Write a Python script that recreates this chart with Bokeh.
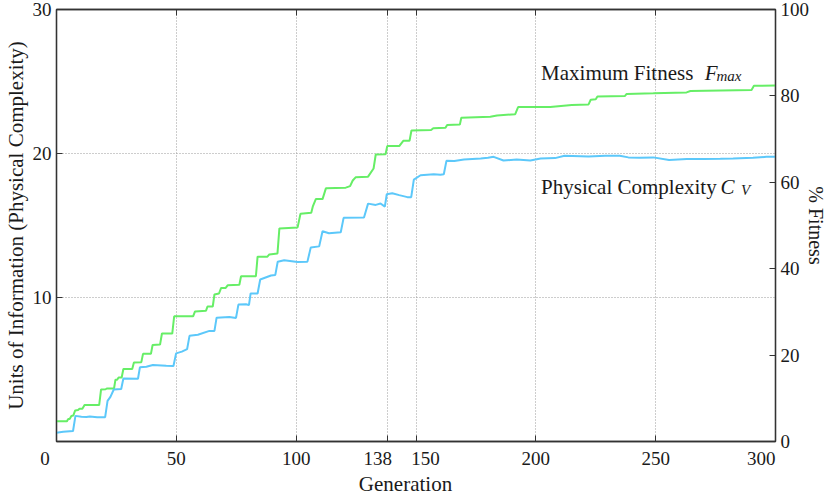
import math
from bokeh.plotting import figure
from bokeh.models import Range1d, LinearAxis, FixedTicker, Label
from bokeh.embed import file_html
from bokeh.resources import INLINE

# ---------------- data ----------------
fit_gen = [0, 4.3, 4.9, 5.5, 6.2, 7.0, 7.8, 9.0, 9.6, 10.8, 11.7, 17.8, 18.6, 20.5, 21.0,
           24.0, 24.6, 25.3, 25.9, 27.2, 27.9, 31.6, 32.3, 35.4, 36.1, 39.4, 40.1, 43.2,
           44.0, 48.3, 49.1, 57.0, 57.8, 62.4, 63.0, 65.2, 65.9, 67.8, 68.7, 70.6, 71.4,
           76.3, 77.0, 83.2, 83.9, 88.0, 88.8, 92.2, 93.0, 100.6, 101.8, 106.3, 107.0,
           108.2, 111.0, 112.4, 120.7, 122.5, 123.6, 124.8, 130.0, 132.3, 133.2, 137.3,
           138.0, 143.0, 144.7, 147.3, 148.1, 156.3, 157.2, 162.3, 163.0, 168.3, 168.9,
           181.0, 183.8, 191.4, 192.6, 206.0, 215.0, 222.0, 222.9, 225.0, 225.7, 237.2,
           237.9, 249.0, 262.9, 264.5, 290.0, 291.0, 300.0]
fit_pct = [4.66, 4.66, 5.20, 5.20, 5.90, 6.00, 7.20, 7.30, 7.60, 7.60, 8.43, 8.43, 12.05,
           12.10, 12.27, 12.27, 14.31, 14.31, 14.82, 14.82, 16.79, 16.79, 18.26, 18.37,
           20.29, 20.29, 22.33, 22.44, 24.99, 24.99, 28.99, 28.99, 30.12, 30.28, 31.25,
           31.25, 34.03, 34.26, 35.55, 35.55, 36.16, 36.29, 38.26, 38.26, 42.78, 42.78,
           43.30, 43.53, 49.33, 49.56, 52.72, 52.95, 54.50, 56.11, 56.11, 58.60, 58.76,
           59.12, 60.41, 61.15, 61.31, 63.20, 66.44, 66.51, 68.38, 68.38, 69.60, 69.60,
           72.00, 72.09, 72.50, 72.61, 73.29, 73.36, 74.94, 75.16, 75.48, 75.77, 77.42,
           77.42, 77.88, 78.03, 79.10, 79.20, 79.84, 80.00, 80.45, 80.59, 80.81, 81.13,
           81.36, 82.33, 82.40]

cv_gen = [0, 2.8, 6.9, 7.9, 10.4, 12.5, 13.9, 17.0, 20.3, 21.3, 22.5, 23.9, 27.0, 27.9,
          34.0, 34.8, 37.5, 40.2, 45.8, 48.8, 49.9, 52.3, 54.5, 55.5, 59.0, 63.8, 65.9,
          66.8, 72.1, 74.9, 75.9, 79.1, 80.3, 81.0, 83.9, 85.0, 89.5, 91.3, 92.3, 95.0,
          100.6, 104.7, 106.1, 109.6, 111.0, 113.7, 118.6, 119.8, 128.3, 130.0, 133.2,
          135.2, 137.0, 137.8, 140.1, 143.0, 146.4, 148.0, 149.1, 151.9, 153.3, 157.4,
          160.2, 161.6, 162.7, 166.0, 170.0, 177.0, 180.0, 182.4, 186.5, 192.0, 197.7,
          202.0, 208.0, 212.0, 222.0, 229.0, 235.0, 238.6, 243.4, 249.0, 255.6, 263.0,
          270.0, 277.0, 282.3, 290.6, 296.2, 300.0]
cv_units = [0.61, 0.68, 0.73, 1.78, 1.72, 1.70, 1.74, 1.68, 1.69, 2.82, 3.10, 3.61, 3.65,
            4.38, 4.36, 5.15, 5.19, 5.31, 5.26, 5.24, 6.12, 6.24, 6.41, 7.34, 7.41, 7.68,
            7.68, 8.60, 8.65, 8.58, 9.51, 9.53, 9.47, 10.28, 10.28, 11.25, 11.53, 11.57,
            12.48, 12.58, 12.47, 12.49, 13.48, 13.55, 14.60, 14.46, 14.53, 15.53, 15.55,
            16.52, 16.43, 16.53, 16.31, 17.17, 17.24, 17.11, 16.97, 16.97, 18.19, 18.49,
            18.51, 18.56, 18.53, 18.56, 19.49, 19.48, 19.59, 19.65, 19.70, 19.77, 19.51,
            19.58, 19.51, 19.65, 19.68, 19.84, 19.80, 19.84, 19.84, 19.73, 19.70, 19.73,
            19.55, 19.61, 19.61, 19.63, 19.65, 19.70, 19.77, 19.77]

x_ticks = [0, 50, 100, 138, 150, 200, 250, 300]
x_tick_labels = ["0", "50", "100", "138", "150", "200", "250", "300"]
left_ticks = [10, 20, 30]
right_ticks = [0, 20, 40, 60, 80, 100]
x_grid = [50, 100, 138, 150, 200, 250]
y_grid = [10, 20]

# ---------------- layout / style ----------------
FONT = "Liberation Serif"
INK = "#1a1a1a"
AX = "#333333"
GREEN = "#66ee66"
BLUE = "#5cc8fa"
EM, EN, THIN = "\u2003", "\u2002", "\u2009"
# em/en spaces nudge a few centred tick labels sideways, as in the original
x_label_pad = {0: ("", EM + THIN), 138: ("", EM), 150: (EM, ""), 300: ("", EM + EN)}

p = figure(width=830, height=498, output_backend="svg", toolbar_location=None,
           x_range=Range1d(0, 300), y_range=Range1d(0, 30),
           min_border_left=55, min_border_right=54, min_border_top=9,
           min_border_bottom=57)
p.background_fill_color = "white"
p.border_fill_color = "white"
p.outline_line_color = AX
p.outline_line_width = 1.3

p.extra_y_ranges = {"pct": Range1d(0, 100)}

p.xgrid.ticker = FixedTicker(ticks=x_grid)
p.ygrid.ticker = FixedTicker(ticks=y_grid)
for g in (p.xgrid[0], p.ygrid[0]):
    g.grid_line_color = "#9a9a9a"
    g.grid_line_width = 1
    g.grid_line_dash = "1 2"


def style_axis(ax):
    ax.axis_line_color = AX
    ax.axis_line_width = 1.3
    ax.major_tick_in = 6
    ax.major_tick_out = 0
    ax.major_tick_line_color = AX
    ax.major_tick_line_width = 1
    ax.minor_tick_line_color = None
    ax.major_label_text_font = FONT
    ax.major_label_text_font_size = "19px"
    ax.major_label_text_color = INK
    ax.axis_label_text_font = FONT
    ax.axis_label_text_font_size = "21px"
    ax.axis_label_text_font_style = "normal"
    ax.axis_label_text_color = INK


xax = p.xaxis[0]
style_axis(xax)
xax.ticker = FixedTicker(ticks=x_ticks)
xax.major_label_overrides = {
    t: x_label_pad.get(t, ("", ""))[0] + s + x_label_pad.get(t, ("", ""))[1]
    for t, s in zip(x_ticks, x_tick_labels)}
xax.major_label_standoff = 6
xax.axis_label = "Generation" + EM
xax.axis_label_standoff = 0

yax = p.yaxis[0]
style_axis(yax)
yax.ticker = FixedTicker(ticks=left_ticks)
yax.major_label_standoff = 5
yax.axis_label = "Units of Information (Physical Complexity)"
yax.axis_label_standoff = 2

rax = LinearAxis(y_range_name="pct", ticker=FixedTicker(ticks=right_ticks))
style_axis(rax)
rax.major_label_standoff = 5
rax.axis_label = "% Fitness"
rax.axis_label_text_font_size = "20px"
rax.axis_label_standoff = -7
p.add_layout(rax, "right")

tax = LinearAxis(ticker=FixedTicker(ticks=x_ticks))
style_axis(tax)
tax.major_label_overrides = {t: "" for t in x_ticks}
tax.major_label_text_font_size = "0px"
tax.major_label_standoff = 0
p.add_layout(tax, "above")

# ---------------- curves ----------------
p.line(fit_gen, fit_pct, y_range_name="pct", line_color=GREEN, line_width=2)
p.line(cv_gen, cv_units, line_color=BLUE, line_width=2)

# ---------------- curve annotations ----------------
def note(x, y, text, size="21px", style="normal", dy=0):
    p.add_layout(Label(x=x, y=y, text=text, y_offset=dy, text_align="left",
                       text_baseline="alphabetic", text_font=FONT,
                       text_font_size=size, text_font_style=style, text_color=INK))

note(202.2, 25.61, "Maximum Fitness")
note(270.5, 25.61, "F", style="italic")
note(275.4, 25.61, "max", size="15px", style="italic", dy=-3)
note(202.2, 17.64, "Physical Complexity")
note(277.0, 17.64, "C", style="italic")
note(285.6, 17.64, "V", size="15px", style="italic", dy=-3)

open("out.html", "w").write(file_html(p, INLINE))
